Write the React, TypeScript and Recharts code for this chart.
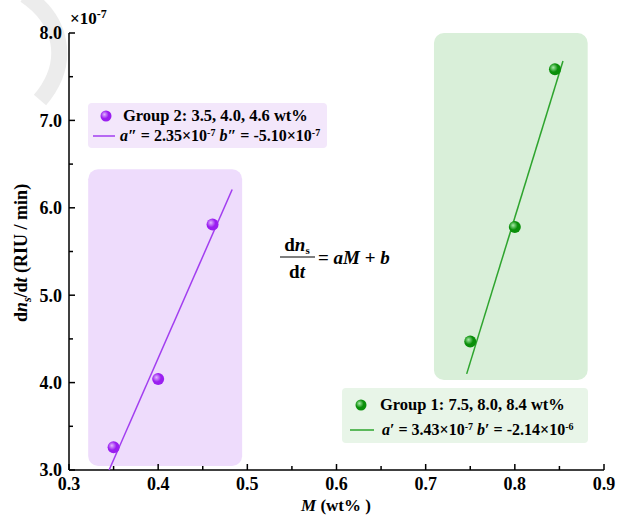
import React from 'react';
import { ComposedChart, Scatter, XAxis, YAxis, ReferenceArea } from 'recharts';

// Group 2 (3.5, 4.0, 4.6 wt%)
const group2M = [0.35, 0.40, 0.461];
const group2Rate = [3.26, 4.04, 5.81];
// Group 1 (7.5, 8.0, 8.4 wt%)
const group1M = [0.75, 0.80, 0.845];
const group1Rate = [4.47, 5.78, 7.585];
// fitted line endpoints
const fit2M = [0.345, 0.483];
const fit2Rate = [3.0, 6.21];
const fit1M = [0.746, 0.854];
const fit1Rate = [4.10, 7.68];
// shaded areas
const area2 = { x1: 0.3215, x2: 0.4942, y1: 3.046, y2: 6.44 };
const area1 = { x1: 0.7093, x2: 0.8817, y1: 4.03, y2: 8.0 };

const xTicks = [0.3, 0.35, 0.4, 0.45, 0.5, 0.55, 0.6, 0.65, 0.7, 0.75, 0.8, 0.85, 0.9];
const yTicks = [3, 3.5, 4, 4.5, 5, 5.5, 6, 6.5, 7, 7.5, 8];

const toPts = (xs: number[], ys: number[]) => xs.map((x, i) => ({ x, y: ys[i] }));
const g2 = toPts(group2M, group2Rate);
const g1 = toPts(group1M, group1Rate);
const f2 = toPts(fit2M, fit2Rate);
const f1 = toPts(fit1M, fit1Rate);

const FONT = '"Liberation Serif", "Times New Roman", serif';
const PURPLE = '#a23ef0';
const GREEN = '#2ea42e';

const isMajor = (v: number, step: number) => Math.abs(Math.round(v / step) * step - v) < 1e-6;

const XTick = (props: any) => {
  const { x, y, payload } = props;
  const v = payload.value as number;
  const major = isMajor(v, 0.1);
  const axisY = y - 7;
  return (
    <g>
      <line x1={x} x2={x} y1={axisY} y2={axisY - (major ? 6 : 4)} stroke="#000" strokeWidth={1.5} />
      {major && (
        <text x={x} y={y} dy="0.71em" textAnchor="middle" fontFamily={FONT} fontWeight="bold" fontSize={18} fill="#000">
          {v.toFixed(1)}
        </text>
      )}
    </g>
  );
};

const YTick = (props: any) => {
  const { x, y, payload } = props;
  const v = payload.value as number;
  const major = isMajor(v, 1);
  const axisX = x + 7;
  return (
    <g>
      <line x1={axisX} x2={axisX + (major ? 6 : 4)} y1={y} y2={y} stroke="#000" strokeWidth={1.5} />
      {major && (
        <text x={x} y={y} dy="0.355em" textAnchor="end" fontFamily={FONT} fontWeight="bold" fontSize={18} fill="#000">
          {v.toFixed(1)}
        </text>
      )}
    </g>
  );
};

const Sphere = ({ cx, cy, base, light, id, r = 6 }: any) => (
  <g>
    <defs>
      <radialGradient id={id} cx="0.4" cy="0.4" r="0.6" fx="0.35" fy="0.35">
        <stop offset="0%" stopColor={light} />
        <stop offset="60%" stopColor={base} />
        <stop offset="100%" stopColor={base} />
      </radialGradient>
    </defs>
    <circle cx={cx} cy={cy} r={r} fill={`url(#${id})`} />
  </g>
);

const purpleShape = (p: any) => (
  <Sphere cx={p.cx} cy={p.cy} base="#9a1ef0" light="#e2b8ff" id={`gp${Math.round(p.cx)}`} />
);
const greenShape = (p: any) => (
  <Sphere cx={p.cx} cy={p.cy} base="#0a8f0a" light="#a8eaa8" id={`gg${Math.round(p.cx)}`} />
);
const noShape = () => <g />;

const roundRect = (fill: string) => (p: any) => (
  <rect x={p.x} y={p.y} width={p.width} height={p.height} rx={10} ry={10} fill={fill} />
);

export default function App() {
  return (
    <div style={{ position: 'absolute', left: 0, top: 0, width: 620, height: 518, background: '#fff' }}>
      <svg width={620} height={518} style={{ position: 'absolute', left: 0, top: 0 }}>
        <path d="M 25 -5 C 62 20, 72 62, 40 100" stroke="#ececec" strokeWidth={16} fill="none" />
      </svg>
      <div style={{ position: 'absolute', left: 0, top: 0 }}>
        <ComposedChart width={620} height={518} margin={{ top: 33, right: 16, bottom: 0, left: 0 }}>
          <XAxis
            xAxisId="b"
            type="number"
            dataKey="x"
            domain={[0.3, 0.9]}
            ticks={xTicks}
            interval={0}
            tick={<XTick />}
            tickLine={false}
            tickSize={0}
            tickMargin={7}
            axisLine={{ stroke: '#000', strokeWidth: 1.5 }}
            height={48}
          />
          <XAxis xAxisId="t" orientation="top" type="number" dataKey="x" domain={[0.3, 0.9]} tick={false} tickLine={false} axisLine={{ stroke: '#000', strokeWidth: 1.5 }} height={0} />
          <YAxis
            yAxisId="l"
            type="number"
            dataKey="y"
            domain={[3, 8]}
            ticks={yTicks}
            interval={0}
            tick={<YTick />}
            tickLine={false}
            tickSize={0}
            tickMargin={7}
            axisLine={{ stroke: '#000', strokeWidth: 1.5 }}
            width={69}
          />
          <YAxis yAxisId="r" orientation="right" type="number" dataKey="y" domain={[3, 8]} tick={false} tickLine={false} axisLine={{ stroke: '#000', strokeWidth: 1.5 }} width={0} />
          <ReferenceArea xAxisId="b" yAxisId="l" {...area2} shape={roundRect('#eedcfc')} />
          <ReferenceArea xAxisId="b" yAxisId="l" {...area1} shape={roundRect('#d9efd9')} />
          <Scatter xAxisId="b" yAxisId="l" data={f2} line={{ stroke: PURPLE, strokeWidth: 1.5 }} shape={noShape} isAnimationActive={false} />
          <Scatter xAxisId="b" yAxisId="l" data={f1} line={{ stroke: GREEN, strokeWidth: 1.5 }} shape={noShape} isAnimationActive={false} />
          <Scatter xAxisId="b" yAxisId="l" data={g2} shape={purpleShape} isAnimationActive={false} />
          <Scatter xAxisId="b" yAxisId="l" data={g1} shape={greenShape} isAnimationActive={false} />
        </ComposedChart>
      </div>
      <svg width={620} height={518} style={{ position: 'absolute', left: 0, top: 0, pointerEvents: 'none' }} fontFamily={FONT} fontWeight="bold">
        {/* exponent */}
        <text x={70} y={24} fontSize={17}>
          ×10<tspan dy={-6} fontSize={12}>-7</tspan>
        </text>
        {/* y label */}
        <text transform="translate(27,253) rotate(-90)" textAnchor="middle" fontSize={18}>
          d<tspan fontStyle="italic">n</tspan><tspan dy={4} fontSize={12} fontStyle="italic">s</tspan><tspan dy={-4}>/d</tspan><tspan fontStyle="italic">t</tspan> (RIU / min)
        </text>
        {/* x label */}
        <text x={336} y={511} textAnchor="middle" fontSize={17}>
          <tspan fontStyle="italic">M</tspan> (wt% )
        </text>
        {/* formula */}
        <text x={297} y={251} textAnchor="middle" fontSize={19}>
          d<tspan fontStyle="italic">n</tspan><tspan dy={3} fontSize={11}>s</tspan>
        </text>
        <line x1={280} x2={315} y1={257} y2={257} stroke="#000" strokeWidth={1.2} />
        <text x={297} y={278} textAnchor="middle" fontSize={19}>
          d<tspan fontStyle="italic">t</tspan>
        </text>
        <text x={318} y={264} fontSize={19}>
          = <tspan fontStyle="italic">aM</tspan> + <tspan fontStyle="italic">b</tspan>
        </text>
        {/* Group 2 legend */}
        <rect x={88} y={103} width={239} height={45} rx={4} fill="#f3e7fb" />
        <Sphere cx={106} cy={116} r={5.5} base="#9a1ef0" light="#e2b8ff" id="lgp" />
        <text x={123} y={121} fontSize={16.5}>Group 2: 3.5, 4.0, 4.6 wt%</text>
        <line x1={93} x2={115} y1={136} y2={136} stroke={PURPLE} strokeWidth={1.5} />
        <text x={120} y={141} fontSize={16}>
          <tspan fontStyle="italic">a</tspan>″ = 2.35×10<tspan dy={-5} fontSize={10}>-7</tspan>
          <tspan dy={5}> </tspan><tspan fontStyle="italic">b</tspan>″ = -5.10×10<tspan dy={-5} fontSize={10}>-7</tspan>
        </text>
        {/* Group 1 legend */}
        <rect x={342} y={388} width={246} height={55} rx={4} fill="#e8f5e8" />
        <Sphere cx={361} cy={405} r={5.5} base="#0a8f0a" light="#a8eaa8" id="lgg" />
        <text x={380} y={410} fontSize={16.5}>Group 1: 7.5, 8.0, 8.4 wt%</text>
        <line x1={350} x2={374} y1={430} y2={430} stroke={GREEN} strokeWidth={1.5} />
        <text x={382} y={435} fontSize={16}>
          <tspan fontStyle="italic">a</tspan>′ = 3.43×10<tspan dy={-5} fontSize={10}>-7</tspan>
          <tspan dy={5}> </tspan><tspan fontStyle="italic">b</tspan>′ = -2.14×10<tspan dy={-5} fontSize={10}>-6</tspan>
        </text>
      </svg>
    </div>
  );
}
